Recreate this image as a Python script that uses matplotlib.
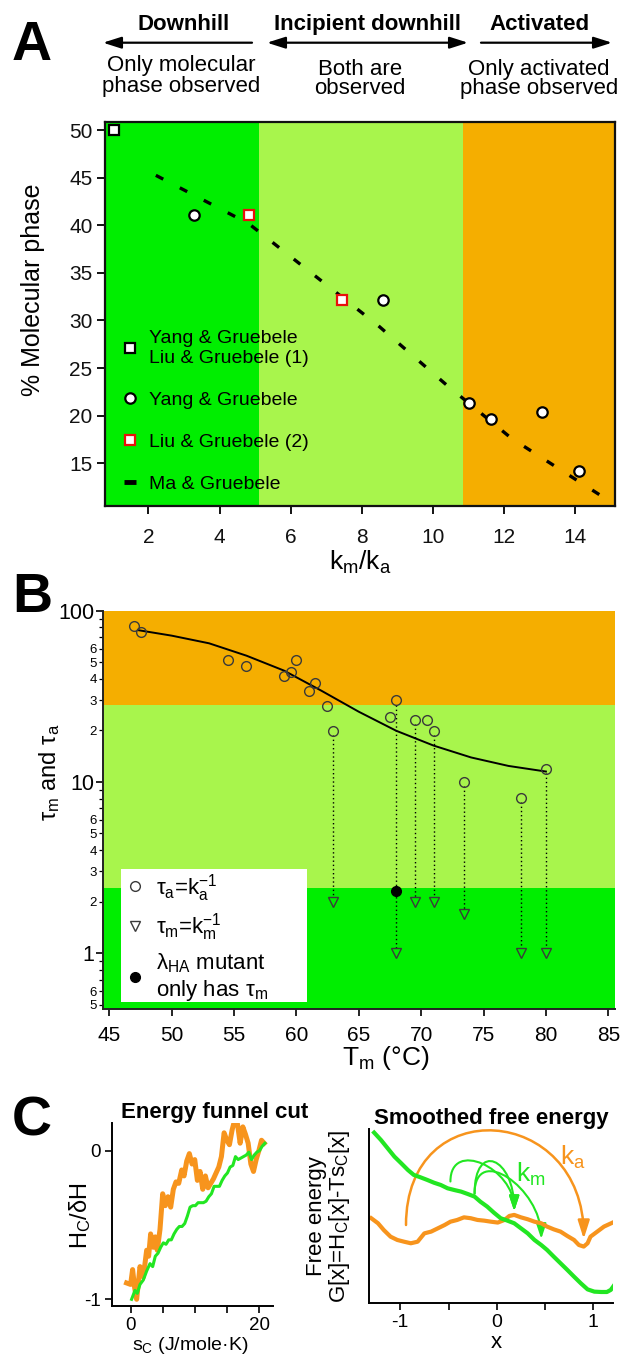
import numpy as np
import matplotlib
matplotlib.use('Agg')
import matplotlib.pyplot as plt
from matplotlib.lines import Line2D
from matplotlib.patches import FancyArrowPatch, Rectangle
from matplotlib.path import Path
from matplotlib.ticker import FixedLocator, FuncFormatter

plt.rcParams['font.family'] = ['Liberation Sans', 'DejaVu Sans']
plt.rcParams['mathtext.default'] = 'regular'
plt.rcParams['axes.unicode_minus'] = False

# ---------------- data ----------------
# Panel A
regimes_A = [5.1, 10.84]
yl1_x = [1.02]
yl1_y = [50.0]
yang_x = [3.29, 8.59, 11.01, 11.64, 13.07, 14.10]
yang_y = [41.07, 32.15, 21.37, 19.69, 20.39, 14.24]
liu2_x = [4.84, 7.45]
liu2_y = [41.07, 32.15]
ma_x = [2.21, 4.82, 8.45, 10.33, 12.21, 14.77]
ma_y = [45.24, 40.17, 29.5, 23.4, 17.62, 11.5]
A_xticks = [2, 4, 6, 8, 10, 12, 14]
A_yticks = [15, 20, 25, 30, 35, 40, 45, 50]
A_legend = ['Yang & Gruebele\nLiu & Gruebele (1)', 'Yang & Gruebele',
            'Liu & Gruebele (2)', 'Ma & Gruebele']

# Panel B
bands_B = [0.47, 2.41, 28.1, 100]
tau_a_T = [46.98, 47.52, 54.5, 55.96, 58.97, 59.54, 59.97, 60.97, 61.49, 62.49,
           62.97, 67.5, 68.01, 69.47, 70.47, 70.99, 73.47, 78.0, 80.0]
tau_a = [81.6, 75.4, 51.5, 47.3, 41.8, 43.9, 51.5, 33.8, 37.8, 27.9,
         19.9, 23.9, 30.0, 23.0, 23.0, 19.9, 10.05, 8.04, 11.97]
tau_m_T = [62.97, 68.01, 69.47, 70.99, 73.47, 78.0, 80.0]
tau_m = [1.99, 1.0, 1.99, 1.99, 1.70, 1.0, 1.0]
tau_m_from = [19.9, 30.0, 23.0, 19.9, 10.05, 8.04, 11.97]
mutant_T = [68.01]
mutant_tau = [2.30]
fit_T = [47.3, 50, 53, 56, 59, 62, 65, 68, 71, 74, 77, 80]
fit_tau = [77, 71.5, 64.5, 54.6, 44.7, 34.1, 25.7, 19.9, 16.3, 13.9, 12.4, 11.5]
B_xticks = [45, 50, 55, 60, 65, 70, 75, 80, 85]
B_legend = ['\u03c4$_a$=k$_a^{-1}$', '\u03c4$_m$=k$_m^{-1}$',
            '\u03bb$_{HA}$ mutant\nonly has \u03c4$_m$']

# Panel C left (energy funnel cut)
fun_or_x = [-0.68, -0.05, 0.26, 0.57, 0.89, 1.41, 1.93, 2.45, 2.76, 3.07, 3.49, 3.80,
            4.11, 4.53, 4.95, 5.36, 5.78, 6.20, 6.61, 7.03, 7.45, 7.92, 8.28, 8.70,
            9.11, 9.53, 9.95, 10.36, 10.78, 11.20, 11.61, 12.03, 12.45, 12.86, 13.28,
            13.70, 14.11, 14.53, 14.95, 15.36, 15.78, 16.20, 16.61, 17.03, 17.45,
            17.86, 18.28, 18.70, 19.11, 19.53, 19.95, 20.36, 20.78]
fun_or_y = [-0.89, -0.90, -0.80, -0.92, -1.00, -0.78, -0.85, -0.67, -0.71, -0.56, -0.65,
            -0.58, -0.67, -0.53, -0.29, -0.37, -0.31, -0.38, -0.26, -0.21, -0.22, -0.13,
            -0.17, -0.07, -0.02, -0.09, -0.06, -0.20, -0.14, -0.26, -0.17, -0.25, -0.22,
            -0.19, -0.15, -0.11, -0.04, 0.12, 0.07, 0.04, 0.14, 0.21, 0.18, 0.05, 0.16,
            0.11, 0.05, -0.09, -0.14, -0.06, 0.00, 0.07, 0.05]
fun_gr_x = [0.10, 0.63, 0.99, 1.41, 1.93, 2.45, 2.97, 3.39, 3.80, 4.22, 4.64, 5.05, 5.47,
            5.89, 6.30, 6.72, 7.14, 7.55, 7.97, 8.39, 8.80, 9.22, 9.64, 10.05, 10.47,
            10.89, 11.30, 11.72, 12.14, 12.55, 12.97, 13.39, 13.80, 14.22, 14.64, 15.05,
            15.47, 15.89, 16.30, 16.72, 17.14, 17.55, 17.97, 18.39, 18.80, 19.22, 19.64,
            20.05, 20.47, 20.89]
fun_gr_y = [-1.00, -0.94, -0.96, -0.90, -0.87, -0.81, -0.76, -0.78, -0.71, -0.69, -0.65,
            -0.62, -0.63, -0.60, -0.60, -0.56, -0.53, -0.51, -0.51, -0.49, -0.44, -0.38,
            -0.37, -0.37, -0.35, -0.35, -0.35, -0.34, -0.31, -0.29, -0.24, -0.24, -0.24,
            -0.20, -0.17, -0.15, -0.11, -0.10, -0.04, -0.06, -0.05, -0.04, -0.03, -0.01,
            -0.06, -0.03, -0.01, 0.00, 0.03, 0.05]

# Panel C right (smoothed free energy)
fe_gr_x = [-1.27, -1.20, -1.13, -1.06, -0.99, -0.92, -0.86, -0.79, -0.72, -0.65, -0.58,
           -0.51, -0.44, -0.37, -0.30, -0.23, -0.17, -0.10, -0.03, 0.04, 0.11, 0.18,
           0.25, 0.32, 0.39, 0.46, 0.52, 0.59, 0.66, 0.73, 0.80, 0.87, 0.94, 1.01, 1.08,
           1.14, 1.18, 1.21]
fe_gr_y = [0.981, 0.939, 0.891, 0.843, 0.805, 0.766, 0.738, 0.724, 0.709, 0.693, 0.680,
           0.661, 0.651, 0.642, 0.628, 0.613, 0.584, 0.556, 0.521, 0.489, 0.475, 0.460,
           0.431, 0.402, 0.364, 0.335, 0.307, 0.268, 0.230, 0.192, 0.153, 0.115, 0.080,
           0.067, 0.065, 0.065, 0.077, 0.100]
fe_or_x = [-1.30, -1.23, -1.17, -1.10, -1.03, -0.96, -0.89, -0.82, -0.75, -0.68, -0.61,
           -0.54, -0.48, -0.41, -0.34, -0.27, -0.20, -0.13, -0.06, 0.01, 0.08, 0.13,
           0.18, 0.25, 0.32, 0.39, 0.46, 0.52, 0.59, 0.66, 0.73, 0.80, 0.85, 0.90, 0.94,
           0.97, 1.04, 1.11, 1.20]
fe_or_y = [0.489, 0.460, 0.421, 0.383, 0.364, 0.354, 0.345, 0.354, 0.402, 0.412, 0.431,
           0.450, 0.469, 0.479, 0.494, 0.489, 0.479, 0.475, 0.469, 0.464, 0.479, 0.502,
           0.508, 0.494, 0.483, 0.469, 0.460, 0.441, 0.425, 0.412, 0.387, 0.364, 0.335,
           0.326, 0.345, 0.383, 0.412, 0.441, 0.464]
ka_arc = ((-0.94, 0.45), (0.90, 0.37), 0.99)
km_arcs = [((-0.48, 0.70), (0.18, 0.53), 0.80),
           ((-0.23, 0.63), (0.18, 0.53), 0.81),
           ((-0.23, 0.63), (0.46, 0.37), 0.72)]

# ---------------- style ----------------
GREEN = '#00ee00'
LIGHT = '#a8f54c'
ORANGE = '#f5ae00'
LINE_OR = '#f7941d'
LINE_GR = '#22e622'

W, H = 624, 1357
fig = plt.figure(figsize=(W / 100, H / 100), dpi=100)


def rect(l, t, r, b):
    return [l / W, 1 - b / H, (r - l) / W, (b - t) / H]


def fx(px):
    return px / W


def fy(py):
    return 1 - py / H


def label_at(ax, which, px, py):
    inv = ax.transAxes.inverted()
    x, y = inv.transform((px, H - py))
    if which == 'x':
        ax.xaxis.set_label_coords(x, y)
        ax.xaxis.label.set_verticalalignment('center')
    else:
        ax.yaxis.set_label_coords(x, y)
        ax.yaxis.label.set_verticalalignment('center')
        ax.yaxis.label.set_horizontalalignment('center')


def fig_arrow(x0, x1, y, style):
    a = FancyArrowPatch((fx(x0), fy(y)), (fx(x1), fy(y)), transform=fig.transFigure,
                        arrowstyle=style, mutation_scale=10, lw=1.6, color='black',
                        shrinkA=0, shrinkB=0)
    fig.add_artist(a)


# ---------------- header of panel A ----------------
fig.text(fx(32), fy(60), 'A', ha='center', va='baseline', fontsize=40, fontweight='bold')
fig.text(fx(32), fy(612), 'B', ha='center', va='baseline', fontsize=40, fontweight='bold')
fig.text(fx(32), fy(1135), 'C', ha='center', va='baseline', fontsize=40, fontweight='bold')

for s, x in [('Downhill', 184), ('Incipient downhill', 368), ('Activated', 540)]:
    fig.text(fx(x), fy(30), s, ha='center', va='baseline', fontsize=16, fontweight='bold')
hs = 'head_length=1.1,head_width=0.35'
fig_arrow(252, 103, 42.7, '-|>,' + hs)
fig_arrow(267, 468, 42.7, '<|-|>,' + hs)
fig_arrow(481, 612, 42.7, '-|>,' + hs)
for s, x, y in [('Only molecular', 181, 71), ('phase observed', 181, 92),
                ('Both are', 360, 75), ('observed', 360, 94),
                ('Only activated', 539, 75), ('phase observed', 539, 94)]:
    fig.text(fx(x), fy(y), s, ha='center', va='baseline', fontsize=16)

# ---------------- Panel A ----------------
axA = fig.add_axes(rect(105, 122, 615, 506))
xl = (0.78, 15.12)
axA.set_xlim(*xl)
axA.set_ylim(10.52, 50.84)
axA.axvspan(xl[0], regimes_A[0], color=GREEN, lw=0, zorder=0)
axA.axvspan(regimes_A[0], regimes_A[1], color=LIGHT, lw=0, zorder=0)
axA.axvspan(regimes_A[1], xl[1], color=ORANGE, lw=0, zorder=0)
axA.plot(ma_x, ma_y, color='black', lw=2.4, ls=(0, (2.5, 5.6)), zorder=2)
mk = dict(ls='none', ms=7.5, mew=1.6, mfc='white')
axA.plot(yl1_x, yl1_y, marker='s', mec='black', clip_on=False, zorder=3, **mk)
axA.plot(yang_x, yang_y, marker='o', mec='black', zorder=3, **mk)
axA.plot(liu2_x, liu2_y, marker='s', mec='#e8100c', zorder=3, **mk)
hA = [Line2D([], [], marker='s', mec='black', **mk),
      Line2D([], [], marker='o', mec='black', **mk),
      Line2D([], [], marker='s', mec='#e8100c', **mk),
      Line2D([], [], marker='_', ls='none', ms=8, mew=3.5, color='black')]
axA.legend(hA, A_legend, loc='lower left', bbox_to_anchor=(0.034, 0.035),
           frameon=False, fontsize=14, labelspacing=1.25, handlelength=0.8,
           handletextpad=0.55, borderpad=0, borderaxespad=0)
axA.set_xticks(A_xticks)
axA.set_yticks(A_yticks)
axA.tick_params(direction='out', length=6, width=1.4, labelsize=15, colors='#111111')
axA.tick_params(axis='x', pad=10)
axA.tick_params(axis='y', pad=3)
for sp in axA.spines.values():
    sp.set_linewidth(1.6)
    sp.set_color('#111111')
axA.set_xlabel('k$_m$/k$_a$', fontsize=19)
axA.set_ylabel('% Molecular phase', fontsize=18)
label_at(axA, 'x', 360, 562)
label_at(axA, 'y', 33, 290)

# ---------------- Panel B ----------------
axB = fig.add_axes(rect(102.7, 610.7, 615, 1009.3))
axB.set_yscale('log')
axB.set_xlim(44.47, 85.54)
axB.set_ylim(bands_B[0], bands_B[-1])
for lo, hi, c in zip(bands_B[:-1], bands_B[1:], [GREEN, LIGHT, ORANGE]):
    axB.axhspan(lo, hi, color=c, lw=0, zorder=0)
axB.plot(fit_T, fit_tau, color='black', lw=1.4, zorder=2)
for T, a, m in zip(tau_m_T, tau_m_from, tau_m):
    axB.plot([T, T], [a / 1.06, m], color='black', lw=1.0, ls=(0, (1, 2)), zorder=2)
axB.plot(tau_a_T, tau_a, 'o', ms=7, mfc='none', mec='#3a3a3a', mew=1.0, zorder=3)
axB.plot(tau_m_T, tau_m, 'v', ms=7.5, mfc=GREEN, mec='#3a3a3a', mew=1.0, zorder=3)
axB.plot(mutant_T, mutant_tau, 'o', ms=7, color='black', zorder=4)
axB.add_patch(Rectangle((0.0357, 0.0183), 0.363, 0.3344, transform=axB.transAxes,
                        facecolor='white', edgecolor='none', zorder=3))
hB = [Line2D([], [], marker='o', ls='none', ms=7, mfc='none', mec='#3a3a3a', mew=1.0),
      Line2D([], [], marker='v', ls='none', ms=7, mfc='none', mec='#3a3a3a', mew=1.0),
      Line2D([], [], marker='o', ls='none', ms=7, color='black')]
legB = axB.legend(hB, B_legend, loc='upper left', bbox_to_anchor=(0.047, 0.345),
                  frameon=False, fontsize=16, labelspacing=0.35, handlelength=0.7,
                  handletextpad=0.6, borderpad=0, borderaxespad=0)
legB.set_zorder(5)
axB.set_yticks([1, 10, 100])
axB.set_yticklabels(['1', '10', '100'])
minor = [m * 10.0 ** e for e in (-1, 0, 1) for m in range(2, 10)
         if bands_B[0] <= m * 10.0 ** e <= bands_B[-1]]
axB.yaxis.set_minor_locator(FixedLocator(minor))


def minor_fmt(v, pos):
    m = int(round(v / 10 ** np.floor(np.log10(v) + 1e-9)))
    return str(m) if m in (2, 3, 4, 5, 6) else ''


axB.yaxis.set_minor_formatter(FuncFormatter(minor_fmt))
axB.set_xticks(B_xticks)
axB.tick_params(axis='y', which='major', direction='out', length=5, width=1.2,
                labelsize=15.5, pad=1)
axB.tick_params(axis='y', which='minor', direction='out', length=3, width=0.9,
                labelsize=9.5, pad=1)
axB.tick_params(axis='x', direction='out', length=5, width=1.2, labelsize=15, pad=7)
axB.spines['top'].set_visible(False)
axB.spines['right'].set_visible(False)
for s in ('left', 'bottom'):
    axB.spines[s].set_linewidth(1.4)
    axB.spines[s].set_color('#222222')
axB.set_xlabel('T$_m$ (\u00b0C)', fontsize=19)
axB.set_ylabel('\u03c4$_m$ and \u03c4$_a$', fontsize=17)
label_at(axB, 'x', 386, 1058)
label_at(axB, 'y', 50, 772)

# ---------------- Panel C left ----------------
axC1 = fig.add_axes(rect(111.7, 1123.3, 273.3, 1306))
axC1.set_xlim(-3.0, 22.2)
axC1.set_ylim(-1.045, 0.184)
axC1.plot(fun_or_x, fun_or_y, color=LINE_OR, lw=3.6, solid_joinstyle='round')
axC1.plot(fun_gr_x, fun_gr_y, color=LINE_GR, lw=2.2, solid_joinstyle='round')
axC1.set_xticks([0, 5, 10, 15, 20])
axC1.set_xticklabels(['0', '', '', '', '20'])
axC1.set_yticks([-1, 0])
axC1.set_yticklabels(['-1', '0'])
axC1.tick_params(direction='out', length=5, width=1.2, labelsize=13.5)
axC1.tick_params(axis='x', pad=3)
axC1.tick_params(axis='y', pad=3)
axC1.spines['top'].set_visible(False)
axC1.spines['right'].set_visible(False)
for s in ('left', 'bottom'):
    axC1.spines[s].set_linewidth(1.4)
axC1.set_title('Energy funnel cut', fontsize=16, fontweight='bold', pad=0)
axC1.set_xlabel('s$_C$ (J/mole\u00b7K)', fontsize=14)
axC1.set_ylabel('H$_C$/\u03b4H', fontsize=17)
label_at(axC1, 'x', 190, 1346)
label_at(axC1, 'y', 80, 1216)

# ---------------- Panel C right ----------------
axC2 = fig.add_axes(rect(369.3, 1129.3, 612.7, 1303.3))
axC2.set_xlim(-1.32, 1.20)
axC2.set_ylim(0, 1)
axC2.plot(fe_or_x, fe_or_y, color=LINE_OR, lw=3.0, solid_joinstyle='round')
axC2.plot(fe_gr_x, fe_gr_y, color=LINE_GR, lw=3.0, solid_joinstyle='round')


def arch(ax, p0, p1, peak, color, lw, head):
    h = (peak - (p0[1] + p1[1]) / 2) / 0.75
    verts = [p0, (p0[0], p0[1] + h), (p1[0], p1[1] + h), p1]
    path = Path(verts, [Path.MOVETO, Path.CURVE4, Path.CURVE4, Path.CURVE4])
    ax.add_patch(FancyArrowPatch(path=path, arrowstyle='-|>,' + head,
                                 mutation_scale=10, color=color, lw=lw))


arch(axC2, ka_arc[0], ka_arc[1], ka_arc[2], LINE_OR, 1.8, 'head_length=1.1,head_width=0.35')
for p0, p1, pk in km_arcs:
    arch(axC2, p0, p1, pk, LINE_GR, 1.5, 'head_length=0.9,head_width=0.3')
axC2.text(0.655, 0.795, 'k$_a$', color=LINE_OR, fontsize=19, ha='left', va='baseline')
axC2.text(0.20, 0.70, 'k$_m$', color=LINE_GR, fontsize=19, ha='left', va='baseline')
axC2.set_xticks([-1, -0.5, 0, 0.5, 1])
axC2.set_xticklabels(['-1', '', '0', '', '1'])
axC2.set_yticks([])
axC2.tick_params(direction='out', length=5, width=1.2, labelsize=14, pad=3)
axC2.spines['top'].set_visible(False)
axC2.spines['right'].set_visible(False)
for s in ('left', 'bottom'):
    axC2.spines[s].set_linewidth(1.4)
axC2.set_title('Smoothed free energy', fontsize=16, fontweight='bold', pad=0)
axC2.set_xlabel('x', fontsize=16)
axC2.set_ylabel('Free energy\nG[x]=H$_C$[x]-Ts$_C$[x]', fontsize=16, linespacing=1.0)
label_at(axC2, 'x', 496, 1343)
label_at(axC2, 'y', 329, 1216)

# titles of C at exact pixel baselines
for ax, xc in ((axC1, 215), (axC2, 491)):
    t = ax.title
    inv = ax.transAxes.inverted()
    xx, yy = inv.transform((xc, H - 1111.7))
    t.set_position((xx, yy))
    t.set_verticalalignment('baseline')

fig.savefig('out.png', dpi=100)
